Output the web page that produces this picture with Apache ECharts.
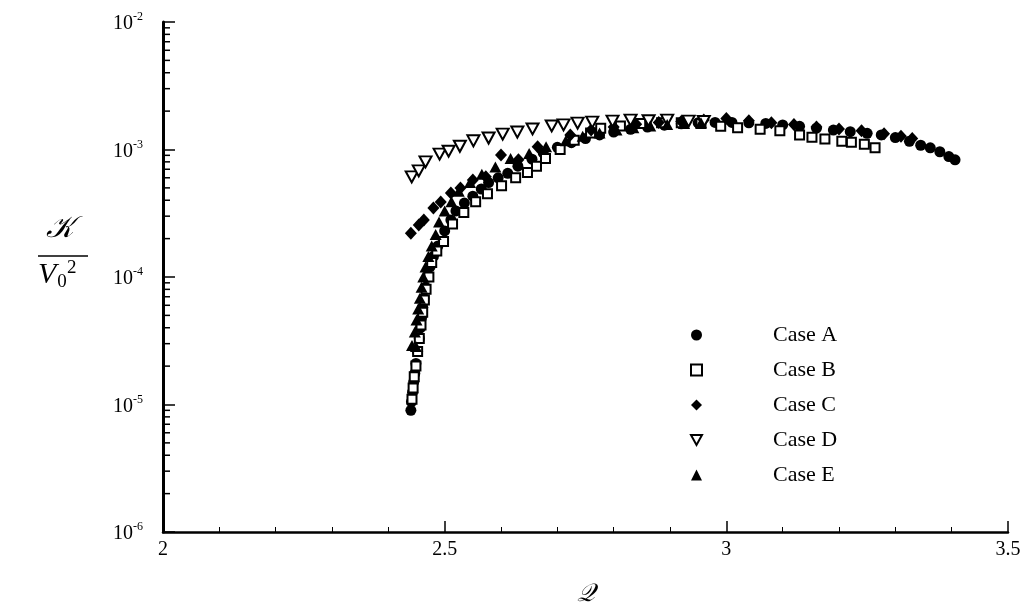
<!DOCTYPE html>
<html>
<head>
<meta charset="utf-8">
<script src="https://cdn.jsdelivr.net/npm/echarts@6/dist/echarts.min.js"></script>
<style>
  html, body { margin: 0; padding: 0; background: #fff; }
  #chart { width: 1026px; height: 613px; }
</style>
</head>
<body>
<div id="chart"></div>
<script>
// Q values and K/V0^2 values for each case
const caseAQ = [2.440, 2.441, 2.443, 2.445, 2.447, 2.449, 2.452, 2.455, 2.457, 2.459, 2.461, 2.463, 2.466, 2.470, 2.474, 2.480, 2.488, 2.500, 2.511, 2.520, 2.535, 2.550, 2.565, 2.578, 2.595, 2.612, 2.630, 2.655, 2.675, 2.700, 2.725, 2.750, 2.775, 2.800, 2.830, 2.860, 2.890, 2.920, 2.950, 2.980, 3.010, 3.040, 3.070, 3.100, 3.130, 3.160, 3.190, 3.220, 3.250, 3.275, 3.300, 3.325, 3.345, 3.362, 3.379, 3.395, 3.406];
const caseAK = [9.0e-6, 1.05e-5, 1.25e-5, 1.5e-5, 1.75e-5, 2.1e-5, 2.6e-5, 3.3e-5, 4.0e-5, 4.8e-5, 5.8e-5, 6.8e-5, 8.3e-5, 1.0e-4, 1.2e-4, 1.45e-4, 1.75e-4, 2.3e-4, 2.8e-4, 3.3e-4, 3.8e-4, 4.3e-4, 4.9e-4, 5.5e-4, 6.0e-4, 6.5e-4, 7.4e-4, 8.4e-4, 9.4e-4, 1.04e-3, 1.13e-3, 1.22e-3, 1.30e-3, 1.37e-3, 1.44e-3, 1.50e-3, 1.55e-3, 1.59e-3, 1.62e-3, 1.63e-3, 1.63e-3, 1.62e-3, 1.60e-3, 1.56e-3, 1.52e-3, 1.47e-3, 1.42e-3, 1.38e-3, 1.34e-3, 1.30e-3, 1.24e-3, 1.16e-3, 1.08e-3, 1.03e-3, 9.6e-4, 8.8e-4, 8.3e-4];

const caseBQ = [2.442, 2.444, 2.446, 2.449, 2.452, 2.455, 2.458, 2.461, 2.464, 2.467, 2.472, 2.477, 2.486, 2.498, 2.514, 2.534, 2.555, 2.576, 2.601, 2.626, 2.647, 2.663, 2.679, 2.705, 2.730, 2.759, 2.777, 2.812, 2.848, 2.885, 2.920, 2.955, 2.990, 3.020, 3.060, 3.095, 3.130, 3.152, 3.175, 3.205, 3.222, 3.245, 3.264];
const caseBK = [1.1e-5, 1.35e-5, 1.65e-5, 2.0e-5, 2.6e-5, 3.3e-5, 4.2e-5, 5.3e-5, 6.6e-5, 8.0e-5, 1.0e-4, 1.3e-4, 1.6e-4, 1.9e-4, 2.6e-4, 3.2e-4, 3.9e-4, 4.5e-4, 5.2e-4, 6.0e-4, 6.6e-4, 7.4e-4, 8.5e-4, 1.0e-3, 1.18e-3, 1.35e-3, 1.47e-3, 1.53e-3, 1.60e-3, 1.62e-3, 1.62e-3, 1.60e-3, 1.52e-3, 1.48e-3, 1.44e-3, 1.40e-3, 1.30e-3, 1.25e-3, 1.21e-3, 1.16e-3, 1.14e-3, 1.10e-3, 1.03e-3];

const caseCQ = [2.440, 2.454, 2.463, 2.480, 2.493, 2.511, 2.528, 2.550, 2.573, 2.600, 2.631, 2.665, 2.723, 2.760, 2.800, 2.840, 2.880, 2.920, 2.960, 3.000, 3.040, 3.080, 3.120, 3.160, 3.200, 3.240, 3.280, 3.310, 3.330];
const caseCK = [2.2e-4, 2.56e-4, 2.8e-4, 3.47e-4, 3.87e-4, 4.56e-4, 5.0e-4, 5.77e-4, 6.1e-4, 9.06e-4, 8.3e-4, 1.05e-3, 1.30e-3, 1.42e-3, 1.50e-3, 1.58e-3, 1.63e-3, 1.66e-3, 1.70e-3, 1.75e-3, 1.68e-3, 1.62e-3, 1.57e-3, 1.50e-3, 1.45e-3, 1.40e-3, 1.33e-3, 1.27e-3, 1.22e-3];

const caseDQ = [2.4415, 2.454, 2.466, 2.491, 2.507, 2.527, 2.551, 2.578, 2.603, 2.629, 2.656, 2.690, 2.711, 2.736, 2.762, 2.798, 2.830, 2.862, 2.895, 2.933, 2.960];
const caseDK = [6.1e-4, 6.8e-4, 8.0e-4, 9.2e-4, 9.7e-4, 1.06e-3, 1.17e-3, 1.23e-3, 1.32e-3, 1.37e-3, 1.45e-3, 1.53e-3, 1.56e-3, 1.61e-3, 1.64e-3, 1.67e-3, 1.70e-3, 1.68e-3, 1.70e-3, 1.67e-3, 1.66e-3];

const caseEQ = [2.442, 2.449, 2.447, 2.450, 2.453, 2.456, 2.459, 2.462, 2.466, 2.471, 2.477, 2.484, 2.490, 2.500, 2.512, 2.525, 2.545, 2.566, 2.590, 2.617, 2.650, 2.680, 2.715, 2.745, 2.775, 2.805, 2.835, 2.865, 2.895, 2.925, 2.955];
const caseEK = [2.9e-5, 2.85e-5, 3.7e-5, 4.6e-5, 5.6e-5, 6.8e-5, 8.3e-5, 1.0e-4, 1.2e-4, 1.45e-4, 1.75e-4, 2.15e-4, 2.7e-4, 3.3e-4, 3.9e-4, 4.7e-4, 5.5e-4, 6.4e-4, 7.3e-4, 8.5e-4, 9.3e-4, 1.05e-3, 1.17e-3, 1.27e-3, 1.35e-3, 1.42e-3, 1.48e-3, 1.53e-3, 1.57e-3, 1.60e-3, 1.62e-3];

const caseNames = ['Case A', 'Case B', 'Case C', 'Case D', 'Case E'];

// Log-axis minor ticks (2..9 within each decade)
const minorDecades = [-6, -5, -4, -3];
const minorMultipliers = [2, 3, 4, 5, 6, 7, 8, 9];

const serif = 'Liberation Serif';
const zip = (xs, ys) => xs.map((x, i) => [x, ys[i]]);

const minorTickData = [];
minorDecades.forEach(d => minorMultipliers.forEach(m => minorTickData.push([2, m * Math.pow(10, d)])));

const filled = { color: '#000', opacity: 1 };
const hollow = { color: '#fff', borderColor: '#000', borderWidth: 2, opacity: 1 };
const downTriangle = 'path://M0,0 L10,0 L5,9 Z';

const chart = echarts.init(document.getElementById('chart'), null, { renderer: 'canvas' });

chart.setOption({
  backgroundColor: '#fff',
  animation: false,
  grid: { left: 163, right: 18, top: 22, bottom: 81, containLabel: false, outerBoundsMode: 'none' },
  legend: {
    orient: 'vertical',
    left: 685,
    top: 319,
    itemWidth: 11,
    itemHeight: 11,
    itemGap: 13,
    data: caseNames,
    formatter: name => '{g|}{n|' + name + '}',
    textStyle: {
      rich: {
        g: { width: 66, lineHeight: 24 },
        n: { fontFamily: serif, fontSize: 22, color: '#000', lineHeight: 24 }
      }
    }
  },
  xAxis: {
    type: 'value',
    min: 2, max: 3.5, interval: 0.5,
    name: '\u{1D4AC}',
    nameLocation: 'middle',
    nameGap: 50,
    nameTextStyle: { fontFamily: 'DejaVu Serif', fontSize: 25, fontStyle: 'italic', color: '#000' },
    axisLine: { show: true, onZero: false, lineStyle: { color: '#000', width: 2.5 } },
    axisTick: { show: true, inside: true, length: 11, lineStyle: { color: '#000', width: 1.5 } },
    minorTick: { show: true, splitNumber: 5, length: 5, lineStyle: { color: '#000', width: 1 } },
    axisLabel: {
      margin: 8, fontFamily: serif, fontSize: 20, color: '#000',
      showMinLabel: true, showMaxLabel: true,
      formatter: v => String(v)
    },
    splitLine: { show: false }
  },
  yAxis: {
    type: 'log',
    logBase: 10,
    min: 1e-6, max: 1e-2,
    axisLine: { show: true, onZero: false, lineStyle: { color: '#000', width: 3 } },
    axisTick: { show: true, inside: true, length: 12, lineStyle: { color: '#000', width: 1.5 } },
    axisLabel: {
      margin: 20,
      formatter: v => '{b|10}{s|' + Math.round(Math.log10(v)) + '}',
      rich: {
        b: { fontFamily: serif, fontSize: 20, color: '#000', lineHeight: 22, verticalAlign: 'middle', padding: [4, 0, 0, 0] },
        s: { fontFamily: serif, fontSize: 12, color: '#000', lineHeight: 22, verticalAlign: 'top' }
      }
    },
    splitLine: { show: false }
  },
  graphic: [
    {
      type: 'text', left: 46, top: 214,
      style: { text: '\u{1D4A6}', font: 'italic 30px "DejaVu Serif"', fill: '#000' }
    },
    {
      type: 'line', shape: { x1: 38, y1: 256, x2: 88, y2: 256 },
      style: { stroke: '#000', lineWidth: 1.5 }
    },
    {
      type: 'text', left: 38, top: 260,
      style: {
        text: '{v|V}{sub|0}',
        rich: {
          v: { fontFamily: serif, fontStyle: 'italic', fontSize: 30, fill: '#000', lineHeight: 34, verticalAlign: 'middle' },
          sub: { fontFamily: serif, fontSize: 19, fill: '#000', lineHeight: 34, verticalAlign: 'bottom', padding: [0, 0, 0, 1] }
        }
      }
    },
    {
      type: 'text', left: 67, top: 259,
      style: { text: '2', font: '19px "Liberation Serif"', fill: '#000' }
    }
  ],
  series: [
    {
      name: 'Case A', type: 'scatter', symbol: 'circle', symbolSize: 11,
      itemStyle: filled, data: zip(caseAQ, caseAK)
    },
    {
      name: 'Case B', type: 'scatter', symbol: 'rect', symbolSize: 9,
      itemStyle: hollow, data: zip(caseBQ, caseBK)
    },
    {
      name: 'Case C', type: 'scatter', symbol: 'diamond', symbolSize: [12, 13],
      itemStyle: filled, data: zip(caseCQ, caseCK)
    },
    {
      name: 'Case D', type: 'scatter', symbol: downTriangle, symbolSize: [12, 11],
      itemStyle: hollow, data: zip(caseDQ, caseDK)
    },
    {
      name: 'Case E', type: 'scatter', symbol: 'triangle', symbolSize: [12, 11],
      itemStyle: filled, data: zip(caseEQ, caseEK)
    },
    {
      name: 'minor-ticks', type: 'custom', silent: true, clip: false, z: 5,
      data: minorTickData,
      encode: { x: 0, y: 1 },
      renderItem: (params, api) => {
        const p = api.coord([api.value(0), api.value(1)]);
        return {
          type: 'line',
          shape: { x1: p[0], y1: p[1], x2: p[0] + 7, y2: p[1] },
          style: { stroke: '#000', lineWidth: 1.5 }
        };
      }
    }
  ]
});
</script>
</body>
</html>
